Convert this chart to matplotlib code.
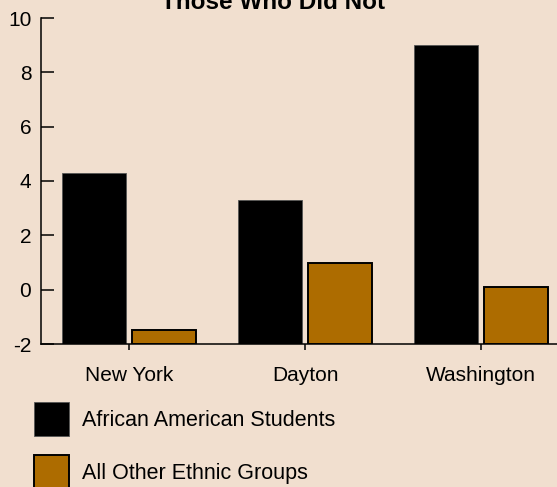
import numpy as np
import matplotlib
matplotlib.use('Agg')
import matplotlib.pyplot as plt

plt.rcParams['font.family'] = ['Liberation Sans', 'DejaVu Sans']
plt.rcParams['axes.unicode_minus'] = False

cities = ['New York', 'Dayton', 'Washington']
african_american = [4.3, 3.3, 9.0]
other_groups = [-1.5, 1.0, 0.1]
series_names = ['African American Students', 'All Other Ethnic Groups']
title = 'Those Who Did Not'

BG = '#f1dfcf'
BROWN = '#ad6c00'
base = -2

fig = plt.figure(figsize=(5.57, 4.87), dpi=100, facecolor=BG)
ax = fig.add_axes([41/557, 1-344/487, 528/557, 326/487], facecolor=BG)

x = np.arange(len(cities))
w = 0.365
b1 = ax.bar(x - 0.2, np.array(african_american) - base, w, bottom=base,
            color='black', edgecolor='#555555', linewidth=0.6)
b2 = ax.bar(x + 0.2, np.array(other_groups) - base, w, bottom=base,
            color=BROWN, edgecolor='black', linewidth=1.4)

ax.set_xlim(-0.5, 2.5)
ax.set_ylim(-2, 10)
ax.set_yticks(range(-2, 11, 2))
ax.set_xticks(x)
ax.set_xticklabels(cities)
for s in ('top', 'right'):
    ax.spines[s].set_visible(False)
for s in ('left', 'bottom'):
    ax.spines[s].set_linewidth(1.1)
ax.tick_params(axis='y', direction='in', length=9.4, width=1.1, pad=7, labelsize=15)
ax.tick_params(axis='x', direction='out', length=4.3, width=1.1, pad=11.5, labelsize=15)

fig.text(273/557, 1-9/487, title, ha='center', va='baseline',
         fontsize=17.5, fontweight='bold')

fig.legend([b1, b2], series_names, loc='upper left',
           bbox_to_anchor=(34/557, 1-402/487), bbox_transform=fig.transFigure,
           frameon=False, fontsize=15.5, borderpad=0, borderaxespad=0,
           handlelength=1.62, handleheight=2.03, handletextpad=0.62,
           labelspacing=0.9)

fig.savefig('out.png', dpi=100, facecolor=BG)
